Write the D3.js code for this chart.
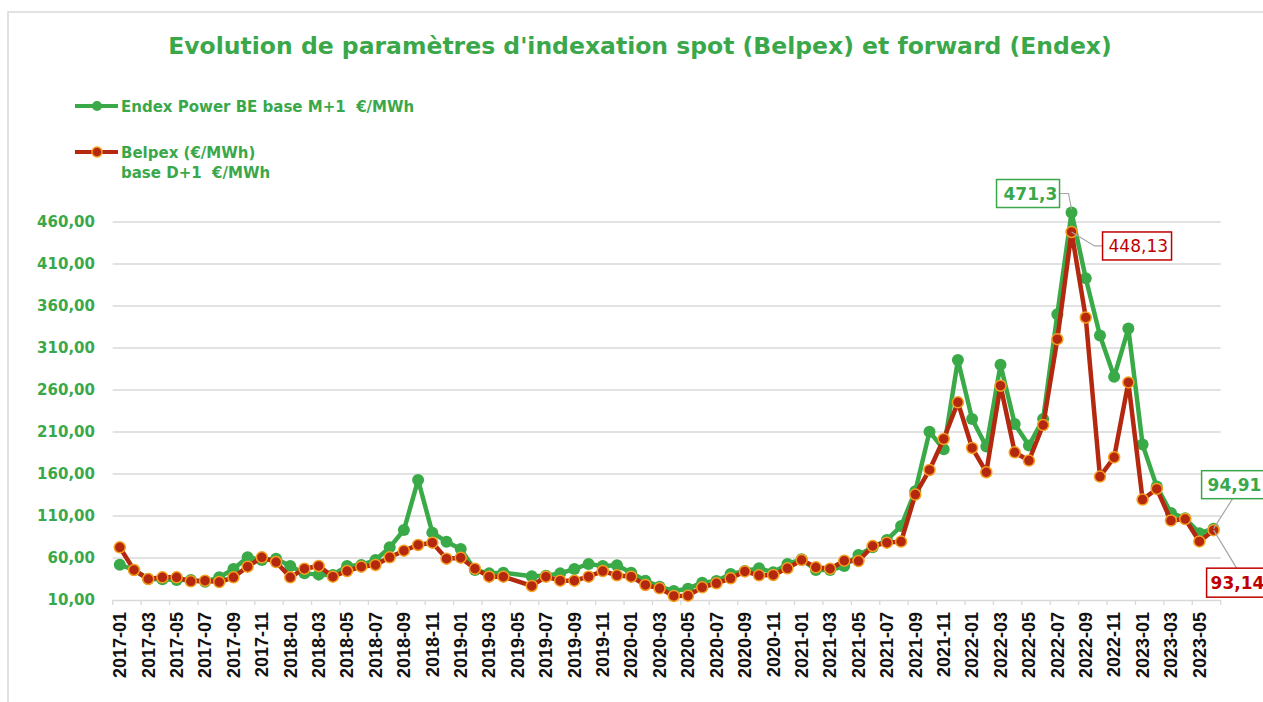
<!DOCTYPE html>
<html lang="fr">
<head>
<meta charset="UTF-8">
<title>Evolution Belpex / Endex</title>
<script src="https://d3js.org/d3.v7.min.js"></script>
<style>
  body { margin: 0; background: #fff; }
  svg { display: block; }
  text { white-space: pre; }
</style>
</head>
<body>
<div id="chart"></div>
<script>
// categories (months)
const months = [
  "2017-01","2017-02","2017-03","2017-04","2017-05","2017-06","2017-07","2017-08","2017-09","2017-10","2017-11","2017-12",
  "2018-01","2018-02","2018-03","2018-04","2018-05","2018-06","2018-07","2018-08","2018-09","2018-10","2018-11","2018-12",
  "2019-01","2019-02","2019-03","2019-04","2019-05","2019-06","2019-07","2019-08","2019-09","2019-10","2019-11","2019-12",
  "2020-01","2020-02","2020-03","2020-04","2020-05","2020-06","2020-07","2020-08","2020-09","2020-10","2020-11","2020-12",
  "2021-01","2021-02","2021-03","2021-04","2021-05","2021-06","2021-07","2021-08","2021-09","2021-10","2021-11","2021-12",
  "2022-01","2022-02","2022-03","2022-04","2022-05","2022-06","2022-07","2022-08","2022-09","2022-10","2022-11","2022-12",
  "2023-01","2023-02","2023-03","2023-04","2023-05","2023-06"
];

// Endex Power BE base M+1 (€/MWh)
const endex = [
  52.1, 45.7, 35.0, 34.6, 33.8, 33.8, 31.8, 37.0, 46.9, 60.8, 57.6, 59.2,
  50.5, 41.7, 40.2, 39.8, 50.5, 51.7, 57.6, 72.7, 93.3, 152.9, 90.2, 79.4,
  70.7, 45.7, 41.7, 42.5, null, 38.2, 39.0, 41.7, 46.9, 52.9, 50.5, 51.3,
  42.5, 33.0, 25.9, 20.7, 23.5, 30.6, 32.6, 41.0, 44.5, 47.7, 42.9, 52.9,
  58.4, 45.7, 45.7, 50.5, 63.6, 72.7, 81.5, 98.0, 139.5, 210.4, 189.4, 295.6,
  225.5, 192.6, 290.0, 219.5, 193.8, 225.5, 350.3, 471.3, 393.0, 324.9, 275.8, 333.2,
  195.0, 145.0, 113.7, 107.4, 89.6, 94.91
];

// Belpex base D+1 (€/MWh)
const belpex = [
  72.7, 45.7, 35.0, 37.0, 37.0, 32.2, 33.0, 31.4, 37.0, 49.7, 60.8, 55.2,
  37.0, 47.3, 50.5, 37.8, 44.5, 49.7, 51.7, 60.8, 68.7, 75.5, 78.3, 59.2,
  60.4, 47.3, 37.8, 37.8, null, 26.7, 37.8, 33.0, 33.0, 37.8, 44.5, 39.4,
  37.8, 27.9, 23.9, 14.8, 15.2, 25.1, 29.8, 35.8, 44.0, 39.4, 39.8, 47.7,
  57.6, 48.9, 47.3, 56.8, 56.4, 74.3, 78.3, 79.5, 135.5, 164.8, 201.7, 245.3,
  191.0, 162.1, 265.1, 185.8, 176.0, 218.3, 320.5, 448.13, 346.3, 156.9, 179.9, 269.0,
  129.6, 142.2, 104.6, 106.4, 79.7, 93.14
];

const yTicks = [10, 60, 110, 160, 210, 260, 310, 360, 410, 460];

const W = 1263, H = 702;
const GREEN = "#3aaa48", GREEN_TXT = "#3aa84a";
const RED = "#b3280e", ORANGE = "#f5a01e", RED_TXT = "#c00000";
const FONT = "Tahoma, 'DejaVu Sans', sans-serif";

const svg = d3.select("#chart").append("svg")
    .attr("width", W).attr("height", H);

// chart frame
svg.append("rect")
    .attr("x", 8).attr("y", 12).attr("width", W + 20).attr("height", H + 20)
    .attr("fill", "none").attr("stroke", "#d9d9d9").attr("stroke-width", 1.5);

// scales
const x = d3.scaleBand().domain(months).range([112.7, 1220.7]).padding(0);
const y = d3.scaleLinear().domain([10, 480]).range([600, 205.2]);
const cx = d => x(d) + x.bandwidth() / 2;

// gridlines
svg.append("g").selectAll("line").data(yTicks.filter(t => t > 10)).enter()
  .append("line")
    .attr("x1", 112.7).attr("x2", 1220.7)
    .attr("y1", d => y(d)).attr("y2", d => y(d))
    .attr("stroke", "#d9d9d9").attr("stroke-width", 1.3);

// y labels
svg.append("g").selectAll("text").data(yTicks).enter()
  .append("text")
    .attr("x", 95).attr("y", d => y(d) + 5)
    .attr("text-anchor", "end")
    .attr("font-family", FONT).attr("font-weight", "bold").attr("font-size", 15)
    .attr("fill", GREEN_TXT)
    .text(d => d3.format(".2f")(d).replace(".", ","));

// x axis
const xAxis = svg.append("g")
    .attr("transform", "translate(0,600)")
    .call(d3.axisBottom(x)
        .tickValues(months.filter((m, i) => i % 2 === 0))
        .tickSize(0).tickPadding(0));
xAxis.select(".domain").attr("stroke", "#d9d9d9").attr("stroke-width", 1.5);
xAxis.selectAll(".tick line").remove();
xAxis.selectAll(".tick text")
    .attr("transform", "rotate(-90)")
    .attr("text-anchor", "end")
    .attr("x", -12).attr("y", 0).attr("dy", "0.35em")
    .attr("font-family", "'Liberation Sans', Arial, sans-serif")
    .attr("font-weight", "bold").attr("font-size", 18).attr("fill", "#111");
// tick marks between every two categories
svg.append("g").selectAll("line")
    .data(months.filter((m, i) => i % 2 === 0).concat(["end"])).enter()
  .append("line")
    .attr("x1", d => d === "end" ? 1220.7 : x(d))
    .attr("x2", d => d === "end" ? 1220.7 : x(d))
    .attr("y1", 600).attr("y2", 605)
    .attr("stroke", "#d9d9d9").attr("stroke-width", 1.3);

// series
function drawSeries(vals, color, fill, stroke) {
  const pts = months.map((m, i) => ({m: m, v: vals[i]})).filter(d => d.v != null);
  const line = d3.line().x(d => cx(d.m)).y(d => y(d.v));
  svg.append("path").datum(pts)
      .attr("d", line).attr("fill", "none")
      .attr("stroke", color).attr("stroke-width", 4.5).attr("stroke-linejoin", "round");
  svg.append("g").selectAll("circle").data(pts).enter()
    .append("circle")
      .attr("cx", d => cx(d.m)).attr("cy", d => y(d.v))
      .attr("r", stroke ? 5.5 : 6)
      .attr("fill", fill)
      .attr("stroke", stroke || "none").attr("stroke-width", 1.5);
}
drawSeries(endex, GREEN, GREEN, null);
drawSeries(belpex, RED, RED, ORANGE);

// data labels
function callout(i, vals, txt, color, weight, bx, by, bw, bh, tx, path) {
  const px = cx(months[i]), py = y(vals[i]);
  svg.append("path")
      .attr("d", path(px, py))
      .attr("fill", "none").attr("stroke", "#a6a6a6").attr("stroke-width", 1.2);
  svg.append("rect")
      .attr("x", px + bx).attr("y", py + by).attr("width", bw).attr("height", bh)
      .attr("fill", "#fff").attr("stroke", color).attr("stroke-width", 1.5);
  svg.append("text")
      .attr("x", px + bx + tx).attr("y", py + by + bh / 2 + 6)
      .attr("text-anchor", "start")
      .attr("font-family", FONT).attr("font-weight", weight).attr("font-size", 17)
      .attr("fill", color).text(txt);
}
const fmt = v => String(v).replace(".", ",");
callout(67, endex, fmt(endex[67]), GREEN_TXT, "bold", -75, -33, 63, 28, 7,
  (px, py) => `M${px - 12},${py - 19}H${px - 3}L${px},${py - 3}`);
callout(67, belpex, fmt(belpex[67]), RED_TXT, "normal", 31, 0, 69, 28, 6,
  (px, py) => `M${px},${py}L${px + 23},${py + 14}H${px + 31}`);
callout(77, endex, fmt(endex[77]), GREEN_TXT, "bold", -12, -58, 72, 28, 6,
  (px, py) => `M${px},${py}L${px + 19},${py - 30}`);
callout(77, belpex, fmt(belpex[77]), RED_TXT, "bold", -7, 38, 72, 29, 4,
  (px, py) => `M${px},${py}L${px + 23},${py + 38}`);

// title
svg.append("text")
    .attr("x", 640).attr("y", 54)
    .attr("text-anchor", "middle")
    .attr("font-family", FONT).attr("font-weight", "bold").attr("font-size", 23.5)
    .attr("fill", GREEN_TXT)
    .text("Evolution de paramètres d'indexation spot (Belpex) et forward (Endex)");

// legend
const legend = svg.append("g").attr("font-family", FONT)
    .attr("font-weight", "bold").attr("font-size", 15).attr("fill", GREEN_TXT);
legend.append("line").attr("x1", 75).attr("x2", 118).attr("y1", 106).attr("y2", 106)
    .attr("stroke", GREEN).attr("stroke-width", 4);
legend.append("circle").attr("cx", 97).attr("cy", 106).attr("r", 5).attr("fill", GREEN);
legend.append("text").attr("x", 121).attr("y", 112).text("Endex Power BE base M+1  €/MWh");
legend.append("line").attr("x1", 75).attr("x2", 118).attr("y1", 152).attr("y2", 152)
    .attr("stroke", RED).attr("stroke-width", 4);
legend.append("circle").attr("cx", 97).attr("cy", 152).attr("r", 5)
    .attr("fill", RED).attr("stroke", ORANGE).attr("stroke-width", 1.5);
legend.append("text").attr("x", 121).attr("y", 158).text("Belpex (€/MWh)");
legend.append("text").attr("x", 121).attr("y", 178).text("base D+1  €/MWh");
</script>
</body>
</html>
